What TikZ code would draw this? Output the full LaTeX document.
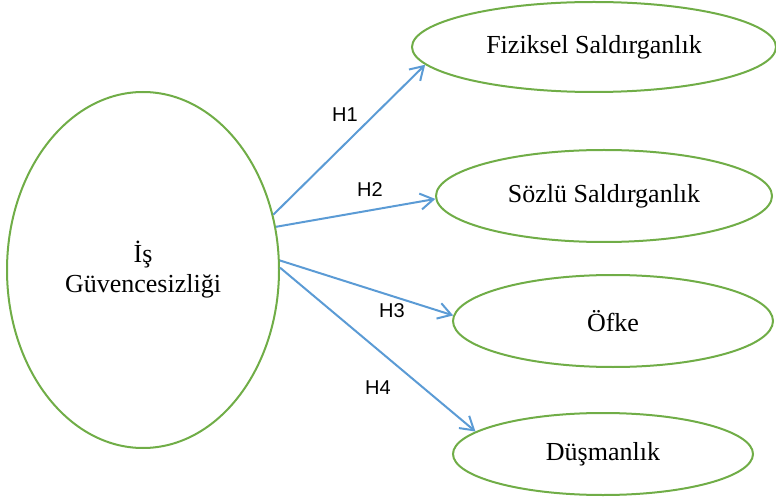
\documentclass[tikz,border=0pt]{standalone}
\usepackage{fontspec}
\setmainfont{Liberation Serif}
\setsansfont{Liberation Sans}
\usetikzlibrary{shapes.geometric, arrows.meta}
\definecolor{ellgreen}{RGB}{112,173,71}
\definecolor{arrblue}{RGB}{91,155,213}

\begin{document}
\begin{tikzpicture}[x=0.5pt, y=-0.5pt,
    latent/.style={ellipse, draw=ellgreen, line width=1pt, inner sep=0pt,
      align=center, font=\fontsize{13}{15}\selectfont},
    link/.style={draw=arrblue, line width=1pt,
      -{Straight Barb[length=6.5pt, width=8pt]}},
    hyp/.style={font=\sffamily\fontsize{10}{12}\selectfont}]
      \useasboundingbox (0,0) rectangle (776,497);
      \node[latent, minimum width=136pt, minimum height=178pt] (is) at (143,270)
        {İş\\Güvencesizliği};
      \node[latent, minimum width=182pt, minimum height=45pt] (fiz) at (594,47)
        {Fiziksel Saldırganlık};
      \node[latent, minimum width=168pt, minimum height=46pt] (soz) at (604,196)
        {Sözlü Saldırganlık};
      \node[latent, minimum width=160pt, minimum height=46pt] (ofk) at (613,321)
        {Öfke};
      \node[latent, minimum width=150pt, minimum height=41pt] (dus) at (603,454)
        {Düşmanlık};
      \foreach \s/\t/\e in {23/fiz/186, 18/soz/181, 4/ofk/178, 1/dus/170}
      \draw[link] (is.\s) -- (\t.\e);
      \node[hyp] (h1) at (345,115) {H1};
      \node[hyp] (h2) at (370,190) {H2};
      \node[hyp] (h3) at (392,311) {H3};
      \node[hyp] (h4) at (378,388) {H4};
    \end{tikzpicture}
\end{document}
